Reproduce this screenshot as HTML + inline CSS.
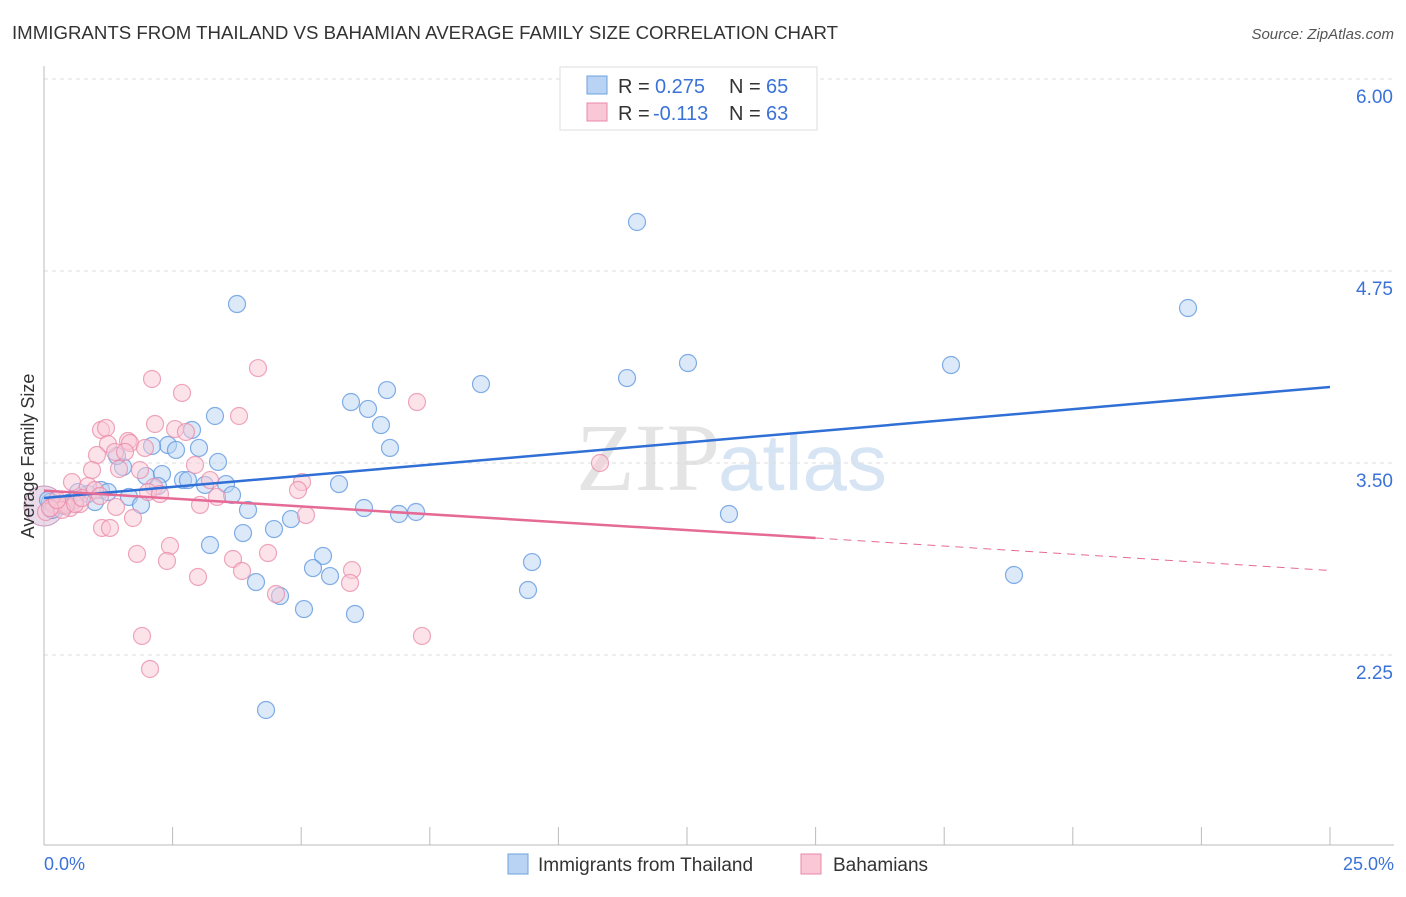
<!DOCTYPE html>
<html><head><meta charset="utf-8"><style>
body{margin:0;background:#fff;font-family:"Liberation Sans",sans-serif}
</style></head><body>
<svg id="chart" width="1406" height="892" xmlns="http://www.w3.org/2000/svg" font-family="Liberation Sans, sans-serif">
<text x="12" y="39" font-size="18" fill="#333" textLength="826" lengthAdjust="spacingAndGlyphs">IMMIGRANTS FROM THAILAND VS BAHAMIAN AVERAGE FAMILY SIZE CORRELATION CHART</text>
<text x="1394" y="39" font-size="15" fill="#555" font-style="italic" text-anchor="end">Source: ZipAtlas.com</text>
<text x="720" y="490" font-size="96" font-family="Liberation Serif, serif" fill="#e4e4e4" text-anchor="end">ZIP</text>
<text x="718" y="490" font-size="80" fill="#d6e4f4">atlas</text>
<g id="grid"></g><g id="axes"></g><g id="pts"></g><g id="lines"></g>
<text transform="translate(34,456) rotate(-90)" font-size="18" fill="#333" text-anchor="middle">Average Family Size</text>
<text x="44" y="870" font-size="18" fill="#3b72d8">0.0%</text>
<text x="1394" y="870" font-size="18" fill="#3b72d8" text-anchor="end">25.0%</text>
<g>
<rect x="560" y="67" width="257" height="63" fill="#fff" stroke="#ddd"/>
<rect x="587" y="76" width="20" height="18" fill="#b8d3f4" stroke="#6fa0e0"/>
<rect x="587" y="103" width="20" height="18" fill="#f9c7d6" stroke="#e88aa8"/>
<text x="618" y="93" font-size="20" fill="#333">R = <tspan x="655" fill="#3b72d8">0.275</tspan><tspan x="729">N = </tspan><tspan x="766" fill="#3b72d8">65</tspan></text>
<text x="618" y="120" font-size="20" fill="#333">R = <tspan x="653" fill="#3b72d8">-0.113</tspan><tspan x="729">N = </tspan><tspan x="766" fill="#3b72d8">63</tspan></text>
</g>
<g>
<rect x="508" y="854" width="20" height="20" fill="#b8d3f4" stroke="#6fa0e0"/>
<text x="538" y="871" font-size="19" fill="#333">Immigrants from Thailand</text>
<rect x="801" y="854" width="20" height="20" fill="#f9c7d6" stroke="#e88aa8"/>
<text x="833" y="871" font-size="19" fill="#333">Bahamians</text>
</g>
</svg>
<script>
const yTicks=[6.00,4.75,3.50,2.25];
const xTicks=[0,2.5,5,7.5,10,12.5,15,17.5,20,22.5,25];
const bluePx=[[637,222],[237,304],[1188,308],[688,363],[951,365],[627,378],[481,384],[387,390],[351,402],[368,409],[215,416],[381,425],[192,430],[168,445],[152,446],[176,450],[199,448],[390,448],[218,462],[123,467],[117,456],[146,476],[162,474],[183,480],[188,480],[205,485],[226,484],[232,495],[101,490],[108,492],[88,494],[129,497],[141,505],[95,502],[75,500],[60,504],[50,502],[48,500],[65,506],[68,503],[158,486],[339,484],[248,510],[291,519],[364,508],[399,514],[416,512],[729,514],[243,533],[274,529],[210,545],[323,556],[313,568],[330,576],[256,582],[280,596],[304,609],[355,614],[532,562],[528,590],[1014,575],[266,710],[56,504],[52,510],[78,492]];
const pinkPx=[[258,368],[152,379],[182,393],[417,402],[239,416],[155,424],[101,430],[106,428],[175,429],[186,432],[128,441],[130,443],[108,444],[145,448],[115,452],[97,455],[125,452],[195,465],[119,469],[92,470],[600,463],[72,482],[88,486],[302,482],[298,490],[154,487],[148,492],[217,497],[200,505],[60,505],[70,508],[54,505],[80,504],[46,512],[116,507],[306,515],[133,518],[102,528],[110,528],[170,546],[137,554],[233,559],[268,553],[167,561],[242,571],[352,570],[198,577],[350,583],[276,594],[142,636],[422,636],[150,669],[66,505],[62,510],[50,508],[57,500],[75,504],[82,498],[95,490],[100,496],[140,470],[160,494],[210,480]];
// convert pixel readings into data values
const blueX=bluePx.map(p=>+((p[0]-44)/1286*25).toFixed(3));
const blueY=bluePx.map(p=>+(6-(p[1]-79)/153.6).toFixed(3));
const pinkX=pinkPx.map(p=>+((p[0]-44)/1286*25).toFixed(3));
const pinkY=pinkPx.map(p=>+(6-(p[1]-79)/153.6).toFixed(3));
const blueTrend=[3.272,3.995];
const pinkTrend=[3.32,3.012,2.80];
const X=v=>44+v/25*1286, Y=v=>79+(6-v)*153.6;
const NS='http://www.w3.org/2000/svg';
function mk(tag,attrs,parent){const e=document.createElementNS(NS,tag);for(const k in attrs)e.setAttribute(k,attrs[k]);document.getElementById(parent).appendChild(e);return e;}
yTicks.forEach(t=>{
 const g=mk('line',{x1:44,x2:1394,y1:Y(t),y2:Y(t),stroke:'#ddd','stroke-dasharray':'4,4'},'grid');
 
 
 const l=mk('text',{x:1393,y:Y(t)+24,'font-size':19,fill:'#3b72d8','text-anchor':'end'},'grid');l.textContent=t.toFixed(2);
 
 
});
const ax=mk('line',{x1:44,x2:44,y1:66,y2:845,stroke:'#bbb'},'axes');


const bx=mk('line',{x1:44,x2:1394,y1:845,y2:845,stroke:'#bbb'},'axes');


xTicks.forEach(t=>{const e=mk('line',{x1:X(t),x2:X(t),y1:827,y2:845,stroke:'#bbb'},'axes');
 
 });
function big(color,stroke){const e=mk('circle',{cx:X(0),cy:Y(3.22),r:20,fill:color,'fill-opacity':0.45,stroke:stroke,'stroke-opacity':0.6},'pts');
 
 }
big('#b8d3f4','#5a93de');big('#f9c7d6','#e88aa8');
blueX.forEach((x,i)=>{const c=mk('circle',{cx:X(x),cy:Y(blueY[i]),r:8.5,fill:'#b8d3f4','fill-opacity':0.5,stroke:'#5a93de','stroke-opacity':0.75,'stroke-width':1.2},'pts');
 
 });
pinkX.forEach((x,i)=>{const c=mk('circle',{cx:X(x),cy:Y(pinkY[i]),r:8.5,fill:'#f9c7d6','fill-opacity':0.5,stroke:'#e88aa8','stroke-opacity':0.75,'stroke-width':1.2},'pts');
 
 });
const bl=mk('line',{x1:X(0),y1:Y(blueTrend[0]),x2:X(25),y2:Y(blueTrend[1]),stroke:'#2f6fd6','stroke-width':2.5},'lines');


const pl=mk('line',{x1:X(0),y1:Y(pinkTrend[0]),x2:X(15),y2:Y(pinkTrend[1]),stroke:'#e56a95','stroke-width':2.5},'lines');


const pd=mk('line',{x1:X(15),y1:Y(pinkTrend[1]),x2:X(25),y2:Y(pinkTrend[2]),stroke:'#e56a95','stroke-width':1,'stroke-dasharray':'8,6'},'lines');


</script>
</body></html>
